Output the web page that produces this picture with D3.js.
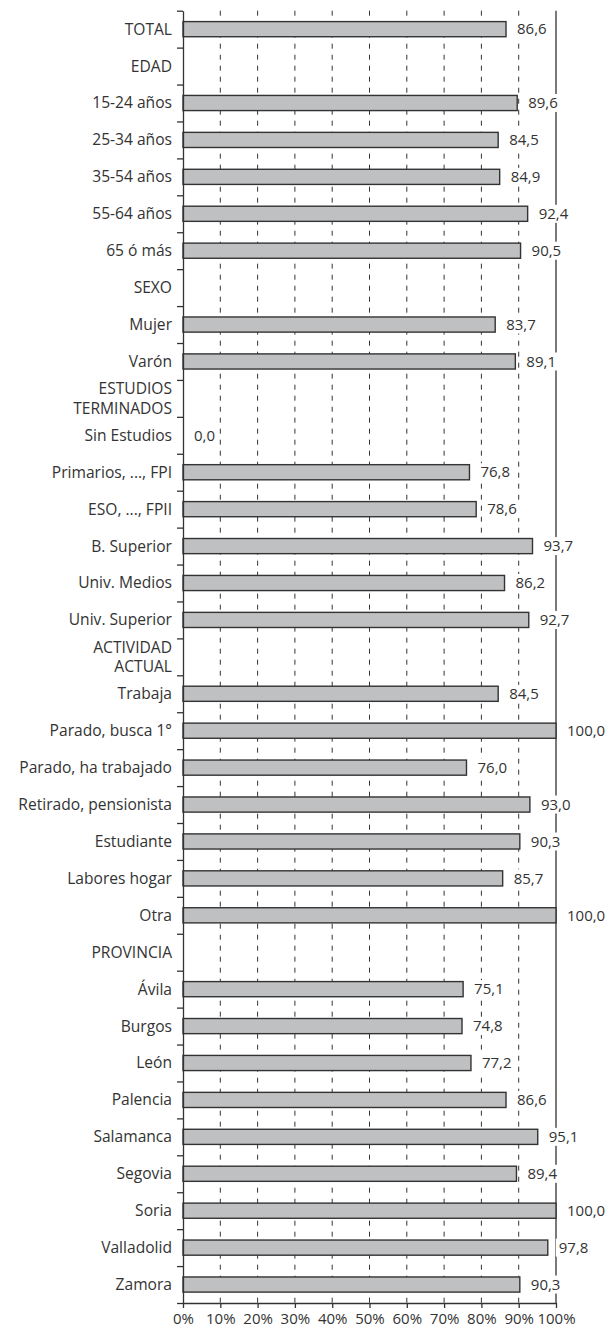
<!DOCTYPE html>
<html><head><meta charset="utf-8">
<script src="https://cdn.jsdelivr.net/npm/d3@7"></script>
<style>body{margin:0;background:#fff}svg{display:block}text{font-family:"Open Sans",sans-serif;fill:#333}</style>
</head><body><svg id="c" width="613" height="1331"></svg>
<script>
const categories = ["TOTAL","EDAD","15-24 años","25-34 años","35-54 años","55-64 años","65 ó más","SEXO","Mujer","Varón","ESTUDIOS\nTERMINADOS","Sin Estudios","Primarios, ..., FPI","ESO, ..., FPII","B. Superior","Univ. Medios","Univ. Superior","ACTIVIDAD\nACTUAL","Trabaja","Parado, busca 1°","Parado, ha trabajado","Retirado, pensionista","Estudiante","Labores hogar","Otra","PROVINCIA","Ávila","Burgos","León","Palencia","Salamanca","Segovia","Soria","Valladolid","Zamora"];
const values = [86.6,null,89.6,84.5,84.9,92.4,90.5,null,83.7,89.1,null,0.0,76.8,78.6,93.7,86.2,92.7,null,84.5,100.0,76.0,93.0,90.3,85.7,100.0,null,75.1,74.8,77.2,86.6,95.1,89.4,100.0,97.8,90.3];
const xTicks = [0,10,20,30,40,50,60,70,80,90,100];

const svg = d3.select("#c");
const n = categories.length;
const plotTop = 10.7, plotBottom = 1303, plotLeft = 183, plotRight = 556;
const x = d3.scaleLinear().domain([0,100]).range([plotLeft,plotRight]);
const y = d3.scaleBand().domain(d3.range(n)).range([plotTop,plotBottom]).padding(0);
const yEdge = d3.scaleLinear().domain([0,n]).range([plotTop,plotBottom]);
const barH = y.bandwidth()*0.41;
const fsCat = 15.6, fsVal = 15;

// gridlines
svg.append("g").selectAll("line").data(xTicks.filter(d=>d>0&&d<100)).join("line")
  .attr("x1",d=>x(d)).attr("x2",d=>x(d)).attr("y1",plotTop).attr("y2",plotBottom)
  .attr("stroke","#333").attr("stroke-width",1).attr("stroke-dasharray","5,6");
svg.append("line").attr("x1",x(100)).attr("x2",x(100)).attr("y1",plotTop).attr("y2",plotBottom)
  .attr("stroke","#333").attr("stroke-width",1.3);

// bars
const rows = categories.map((c,i)=>({c,v:values[i],i}));
svg.append("g").selectAll("rect").data(rows.filter(d=>d.v!==null && d.v>0)).join("rect")
  .attr("x",x(0)).attr("y",d=>y(d.i)+(y.bandwidth()-barH)/2)
  .attr("width",d=>x(d.v)-x(0)).attr("height",barH)
  .attr("fill","#bfc0c2").attr("stroke","#333").attr("stroke-width",1.4);

// value labels
const fmt = v => d3.format(".1f")(v).replace(".",",");
const lg = svg.append("g").selectAll("g").data(rows.filter(d=>d.v!==null)).join("g")
  .attr("transform",d=>`translate(${x(d.v)+11},${y(d.i)+y.bandwidth()/2})`);
lg.append("rect").attr("class","bg");
lg.append("text").attr("dy","0.35em").attr("font-size",fsVal).text(d=>fmt(d.v));
lg.each(function(){
  const g = d3.select(this); const bb = g.select("text").node().getBBox();
  g.select("rect").attr("x",bb.x-3).attr("y",-9).attr("width",bb.width+6).attr("height",18).attr("fill","#fff");
});

// category labels
const cg = svg.append("g").selectAll("text").data(rows).join("text")
  .attr("x",plotLeft-11).attr("y",d=>y(d.i)+y.bandwidth()/2)
  .attr("text-anchor","end").attr("font-size",fsCat);
cg.each(function(d){
  const lines = d.c.split("\n"); const t = d3.select(this); const lh = 19.5;
  lines.forEach((l,k)=>{
    t.append("tspan").attr("x",plotLeft-11).attr("dy", k===0 ? ((-(lines.length-1)*lh/2)/fsCat+0.35)+"em" : lh+"px").text(l);
  });
});

// axes
const ya = svg.append("g").attr("transform",`translate(${plotLeft},0)`)
  .call(d3.axisLeft(yEdge).tickValues(d3.range(n+1)).tickFormat("").tickSizeInner(6).tickSizeOuter(0));
ya.selectAll("path,line").attr("stroke","#333").attr("stroke-width",1.3);
const xa = svg.append("g").attr("transform",`translate(0,${plotBottom})`)
  .call(d3.axisBottom(x).tickValues(xTicks).tickFormat(d=>d+"%").tickSizeInner(5).tickSizeOuter(0));
xa.selectAll("path,line").attr("stroke","#333").attr("stroke-width",1.3);
xa.selectAll("text").attr("font-size",15).attr("font-family","Open Sans, sans-serif").attr("fill","#333").attr("dy","0.85em");
</script></body></html>
